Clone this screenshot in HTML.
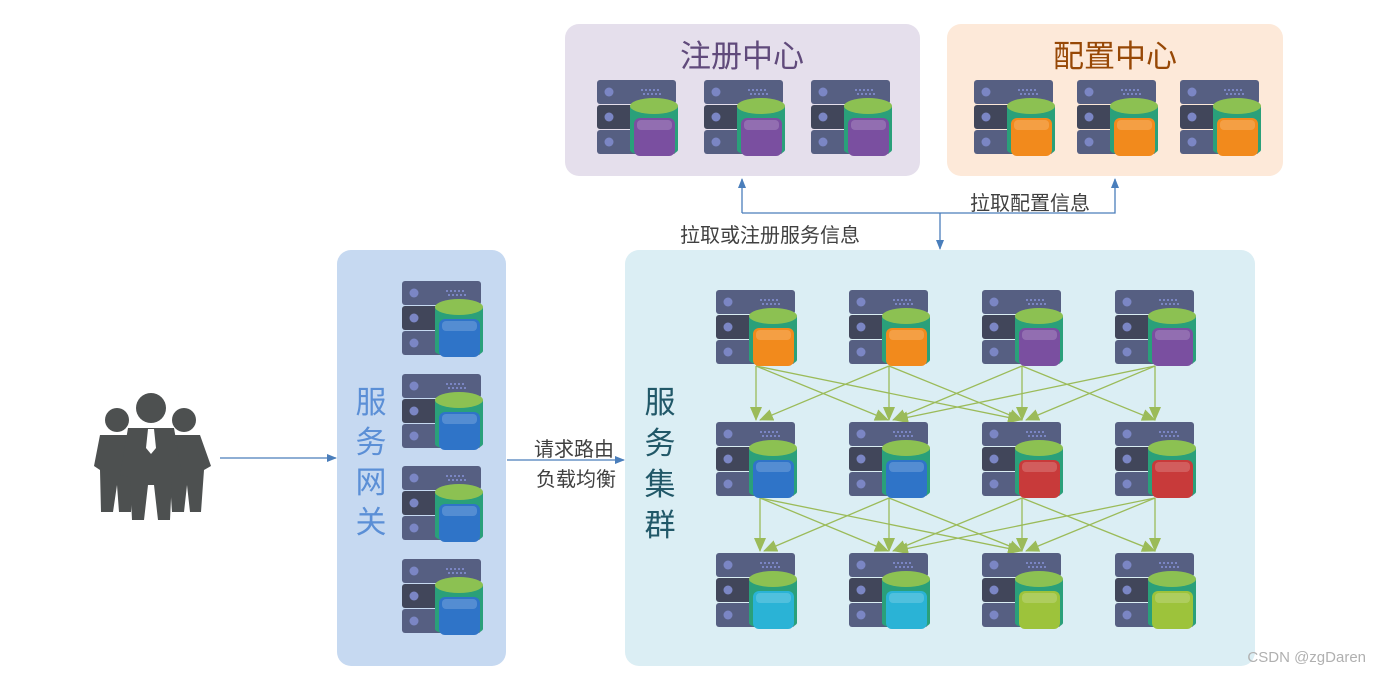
<!DOCTYPE html>
<html><head><meta charset="utf-8"><style>
html,body{margin:0;padding:0;background:#fff;width:1382px;height:676px;overflow:hidden}
text{font-family:"Liberation Sans","Noto Sans CJK SC",sans-serif}
</style></head><body>
<svg width="1382" height="676" viewBox="0 0 1382 676" xmlns="http://www.w3.org/2000/svg">
<defs>
<g id="srv">
  <rect x="0" y="0" width="79" height="24" rx="3" fill="#565f82"/>
  <rect x="0" y="25" width="79" height="24" rx="3" fill="#41465a"/>
  <rect x="0" y="50" width="79" height="24" rx="3" fill="#565f82"/>
  <circle cx="12" cy="12" r="4.5" fill="#7b86c4"/>
  <circle cx="12" cy="37" r="4.5" fill="#7b86c4"/>
  <circle cx="12" cy="62" r="4.5" fill="#7b86c4"/>
  <g fill="#7b86c4"><rect x="44" y="9" width="2" height="2"/><rect x="48" y="9" width="2" height="2"/><rect x="52" y="9" width="2" height="2"/><rect x="56" y="9" width="2" height="2"/><rect x="60" y="9" width="2" height="2"/><rect x="46" y="13" width="2" height="2"/><rect x="50" y="13" width="2" height="2"/><rect x="54" y="13" width="2" height="2"/><rect x="58" y="13" width="2" height="2"/><rect x="62" y="13" width="2" height="2"/></g>
  <path d="M33 26 V70 A24 6 0 0 0 81 70 V26 Z" fill="#2aa07a"/>
  <ellipse cx="57" cy="26" rx="24" ry="8" fill="#8cc152"/>
  <rect x="37" y="38" width="41" height="38" rx="6" fill="currentColor"/>
  <rect x="40" y="40" width="35" height="10" rx="4" fill="#fff" opacity="0.18"/>
</g>
<marker id="ab" markerWidth="10" markerHeight="10" refX="9" refY="5" orient="auto" markerUnits="userSpaceOnUse"><path d="M0 1 L10 5 L0 9 Z" fill="#4a7ebb"/></marker>
<marker id="ag" markerWidth="14" markerHeight="14" refX="13" refY="7" orient="auto" markerUnits="userSpaceOnUse"><path d="M0 1 L14 7 L0 13 Z" fill="#9bbb59"/></marker>
</defs>

<!-- panels -->
<rect x="565" y="24" width="355" height="152" rx="14" fill="#e5dfec"/>
<rect x="947" y="24" width="336" height="152" rx="14" fill="#fde9d9"/>
<rect x="337" y="250" width="169" height="416" rx="14" fill="#c6d9f1"/>
<rect x="625" y="250" width="630" height="416" rx="14" fill="#dbeef4"/>

<text x="742" y="67" font-size="31" fill="#604a7b" text-anchor="middle">注册中心</text>
<text x="1115" y="67" font-size="31" fill="#974806" text-anchor="middle">配置中心</text>

<use href="#srv" x="597" y="80" color="#7a4fa0"/>
<use href="#srv" x="704" y="80" color="#7a4fa0"/>
<use href="#srv" x="811" y="80" color="#7a4fa0"/>
<use href="#srv" x="974" y="80" color="#f28a1c"/>
<use href="#srv" x="1077" y="80" color="#f28a1c"/>
<use href="#srv" x="1180" y="80" color="#f28a1c"/>

<use href="#srv" x="402" y="281" color="#2f74c8"/>
<use href="#srv" x="402" y="374" color="#2f74c8"/>
<use href="#srv" x="402" y="466" color="#2f74c8"/>
<use href="#srv" x="402" y="559" color="#2f74c8"/>

<g font-size="31" fill="#5b8fd6" text-anchor="middle">
<text x="371" y="413">服</text><text x="371" y="453">务</text><text x="371" y="493">网</text><text x="371" y="533">关</text>
</g>
<g font-size="31" fill="#215868" text-anchor="middle">
<text x="660" y="413">服</text><text x="660" y="454">务</text><text x="660" y="495">集</text><text x="660" y="536">群</text>
</g>

<!-- top connectors -->
<g stroke="#4a7ebb" stroke-width="1.3" fill="none">
<path d="M742 213 V179" marker-end="url(#ab)"/>
<path d="M742 213 H1115 V179" marker-end="url(#ab)"/>
<path d="M940 213 V249" marker-end="url(#ab)"/>
<path d="M220 458 H336" marker-end="url(#ab)"/>
<path d="M507 460 H624" marker-end="url(#ab)"/>
</g>
<text x="1030" y="210" font-size="20" fill="#404040" text-anchor="middle">拉取配置信息</text>
<text x="770" y="242" font-size="20" fill="#404040" text-anchor="middle">拉取或注册服务信息</text>
<text x="574" y="456" font-size="20" fill="#404040" text-anchor="middle">请求路由</text>
<text x="576" y="486" font-size="20" fill="#404040" text-anchor="middle">负载均衡</text>

<!-- green connectors -->
<g stroke="#9bbb59" stroke-width="1.3" fill="none">
<path d="M756 366L756 420" marker-end="url(#ag)"/><path d="M756 366L888 420" marker-end="url(#ag)"/><path d="M756 366L1021 420" marker-end="url(#ag)"/>
<path d="M889 366L760 420" marker-end="url(#ag)"/><path d="M889 366L889 420" marker-end="url(#ag)"/><path d="M889 366L1022 420" marker-end="url(#ag)"/>
<path d="M1022 366L893 420" marker-end="url(#ag)"/><path d="M1022 366L1022 420" marker-end="url(#ag)"/><path d="M1022 366L1155 420" marker-end="url(#ag)"/>
<path d="M1155 366L895 420" marker-end="url(#ag)"/><path d="M1155 366L1026 420" marker-end="url(#ag)"/><path d="M1155 366L1155 420" marker-end="url(#ag)"/>
<path d="M760 498L760 551" marker-end="url(#ag)"/><path d="M760 498L888 551" marker-end="url(#ag)"/><path d="M760 498L1021 551" marker-end="url(#ag)"/>
<path d="M889 498L764 551" marker-end="url(#ag)"/><path d="M889 498L889 551" marker-end="url(#ag)"/><path d="M889 498L1022 551" marker-end="url(#ag)"/>
<path d="M1022 498L893 551" marker-end="url(#ag)"/><path d="M1022 498L1022 551" marker-end="url(#ag)"/><path d="M1022 498L1155 551" marker-end="url(#ag)"/>
<path d="M1155 498L895 551" marker-end="url(#ag)"/><path d="M1155 498L1026 551" marker-end="url(#ag)"/><path d="M1155 498L1155 551" marker-end="url(#ag)"/>
</g>

<use href="#srv" x="716" y="290" color="#f28a1c"/>
<use href="#srv" x="849" y="290" color="#f28a1c"/>
<use href="#srv" x="982" y="290" color="#7a4fa0"/>
<use href="#srv" x="1115" y="290" color="#7a4fa0"/>
<use href="#srv" x="716" y="422" color="#2f74c8"/>
<use href="#srv" x="849" y="422" color="#2f74c8"/>
<use href="#srv" x="982" y="422" color="#c83a3a"/>
<use href="#srv" x="1115" y="422" color="#c83a3a"/>
<use href="#srv" x="716" y="553" color="#2ab3d6"/>
<use href="#srv" x="849" y="553" color="#2ab3d6"/>
<use href="#srv" x="982" y="553" color="#9dc33b"/>
<use href="#srv" x="1115" y="553" color="#9dc33b"/>

<!-- people -->
<g fill="#4d5050">
<circle cx="117" cy="420" r="12"/>
<circle cx="184" cy="420" r="12"/>
<path d="M100 435 L134 435 L140 480 L133 482 L131 512 L119 512 L117 485 L113 512 L101 512 L100 470 L94 466 Z"/>
<path d="M168 435 L200 435 L211 466 L204 470 L201 512 L190 512 L187 485 L184 512 L172 512 L170 482 Z"/>
<circle cx="151" cy="408" r="15"/>
<path d="M128 428 L174 428 L182 475 L172 477 L170 520 L158 520 L154 485 L148 485 L144 520 L132 520 L130 477 L120 475 Z"/>
</g>
<path d="M148 429 L154 429 L156 448 L151 454 L146 448 Z" fill="#fff"/>

<text x="1366" y="662" font-size="15" fill="#b0b0b0" text-anchor="end">CSDN @zgDaren</text>
</svg>
</body></html>
